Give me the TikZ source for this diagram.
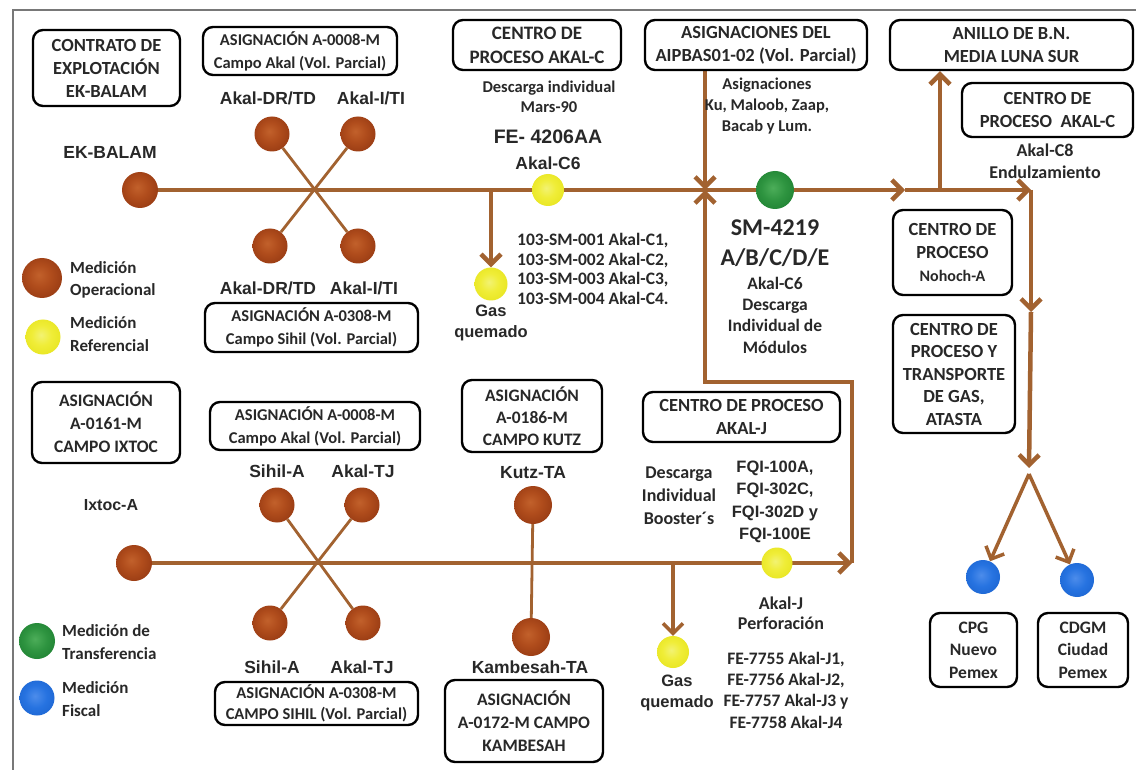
\documentclass[tikz,border=0pt]{standalone}
\usepackage{fontspec}
\setmainfont{Carlito}
\newfontfamily\arialf{Liberation Sans}
\usetikzlibrary{arrows.meta,backgrounds}

\definecolor{ink}{RGB}{40,40,40}
\definecolor{pipec}{RGB}{162,98,48}
\definecolor{framec}{RGB}{120,120,120}

% sphere shadings for the measuring points
\pgfdeclareradialshading{brownsphere}{\pgfpoint{-4bp}{4bp}}{%
  rgb(0bp)=(0.76,0.38,0.17); rgb(14bp)=(0.69,0.30,0.11); rgb(32bp)=(0.58,0.22,0.07);
  rgb(46bp)=(0.45,0.16,0.05); rgb(50bp)=(0.40,0.14,0.05)}
\pgfdeclareradialshading{yellowsphere}{\pgfpoint{-3bp}{3bp}}{%
  rgb(0bp)=(0.95,0.95,0.45); rgb(14bp)=(0.94,0.93,0.22); rgb(34bp)=(0.90,0.89,0.10);
  rgb(46bp)=(0.80,0.79,0.08); rgb(50bp)=(0.74,0.73,0.08)}
\pgfdeclareradialshading{greensphere}{\pgfpoint{-3bp}{3bp}}{%
  rgb(0bp)=(0.30,0.68,0.35); rgb(16bp)=(0.18,0.58,0.25); rgb(36bp)=(0.10,0.48,0.18);
  rgb(50bp)=(0.06,0.36,0.12)}
\pgfdeclareradialshading{bluesphere}{\pgfpoint{-3bp}{3bp}}{%
  rgb(0bp)=(0.30,0.55,0.92); rgb(16bp)=(0.15,0.45,0.88); rgb(36bp)=(0.10,0.38,0.80);
  rgb(50bp)=(0.06,0.28,0.62)}

\tikzset{
  >={Straight Barb[length=10pt,width=20pt]},
  pipe/.style={draw=pipec, line width=4.5pt},
  stem/.style={draw=pipec, line width=2.8pt},
  ball/.style={circle, inner sep=0pt, minimum size=36pt, shading=#1},
  arl/.style={font=\arialf\bfseries\fontsize{17.5}{21}\selectfont, text=ink, align=center, inner sep=0pt},
  cal/.style={font=\bfseries\fontsize{17.5}{21}\selectfont, text=ink, align=center, inner sep=0pt},
  legtxt/.style={font=\bfseries\fontsize{17}{22.5}\selectfont, text=ink, align=left, anchor=west, inner sep=0pt},
  boxst/.style={draw=black, line width=2.4pt, rounded corners=10pt, align=center, text=ink,
    inner sep=0pt, font=\bfseries\fontsize{18.5}{23}\selectfont},
  smallbox/.style={boxst, font=\bfseries\fontsize{16.5}{23}\selectfont},
}

\begin{document}
\begin{tikzpicture}[x=1pt,y=-1pt]
\useasboundingbox (0,0) rectangle (1136,770);

% ---------- boxes ----------
\node[boxst, minimum width=147pt, minimum height=76pt] (contrato) at (106.5,68)
  {CONTRATO DE\\EXPLOTACIÓN\\EK-BALAM};
\node[smallbox, minimum width=194pt, minimum height=48pt] (asigAkalT) at (300,51)
  {ASIGNACIÓN A-0008-M\\Campo Akal (Vol. Parcial)};
\node[boxst, minimum width=168pt, minimum height=50pt, font=\bfseries\fontsize{19}{24}\selectfont] (cpAkalC) at (537,45)
  {CENTRO DE\\PROCESO AKAL-C};
\node[boxst, minimum width=222pt, minimum height=50pt] (aipbas) at (756,45)
  {ASIGNACIONES DEL\\AIPBAS01-02 (Vol. Parcial)};
\node[boxst, minimum width=243pt, minimum height=50pt] (anillo) at (1011.5,45)
  {ANILLO DE B.N.\\MEDIA LUNA SUR};
\node[boxst, minimum width=171pt, minimum height=54pt] (cpAkalC8) at (1047.5,110)
  {CENTRO DE\\PROCESO~~AKAL-C};
\node[smallbox, minimum width=213pt, minimum height=49pt] (asigSihilT) at (311.5,327.5)
  {ASIGNACIÓN A-0308-M\\Campo Sihil (Vol. Parcial)};
\node[boxst, minimum width=119pt, minimum height=85pt] (nohoch) at (952.5,252.5)
  {CENTRO DE\\PROCESO\\{\fontsize{16}{20}\selectfont Nohoch-A}};
\node[boxst, minimum width=122pt, minimum height=118pt, font=\bfseries\fontsize{18.5}{22.5}\selectfont] (atasta) at (954,374)
  {CENTRO DE\\PROCESO Y\\TRANSPORTE\\DE GAS,\\ATASTA};
\node[boxst, minimum width=148pt, minimum height=81pt, font=\bfseries\fontsize{17.5}{23}\selectfont] (ixtocbox) at (106,422.5)
  {ASIGNACIÓN\\A-0161-M\\CAMPO IXTOC};
\node[smallbox, minimum width=210pt, minimum height=48pt] (asigAkalB) at (315,426)
  {ASIGNACIÓN A-0008-M\\Campo Akal (Vol. Parcial)};
\node[boxst, minimum width=140pt, minimum height=72pt, font=\bfseries\fontsize{17.5}{22}\selectfont] (kutzbox) at (532,416)
  {ASIGNACIÓN\\A-0186-M\\CAMPO KUTZ};
\node[boxst, minimum width=197pt, minimum height=50pt] (akalJ) at (741.5,417)
  {CENTRO DE PROCESO\\AKAL-J};
\node[smallbox, minimum width=203pt, minimum height=43pt, font=\bfseries\fontsize{16.5}{21}\selectfont] (asigSihilB) at (316.5,703.5)
  {ASIGNACIÓN A-0308-M\\CAMPO SIHIL (Vol. Parcial)};
\node[boxst, minimum width=158pt, minimum height=82pt, font=\bfseries\fontsize{17.5}{23}\selectfont] (kambbox) at (524,721)
  {ASIGNACIÓN\\A-0172-M CAMPO\\KAMBESAH};
\node[boxst, minimum width=87pt, minimum height=74pt, font=\bfseries\fontsize{17.5}{22.5}\selectfont] (cpg) at (973.5,650)
  {CPG\\Nuevo\\Pemex};
\node[boxst, minimum width=90pt, minimum height=74pt, font=\bfseries\fontsize{17.5}{22.5}\selectfont] (cdgm) at (1083,650)
  {CDGM\\Ciudad\\Pemex};

% ---------- measuring points, upper line ----------
\node[ball=brownsphere] (ek) at (140,190) {};
\node[ball=brownsphere, minimum size=35pt] (drT1) at (272,134) {};
\node[ball=brownsphere, minimum size=35pt] (itT1) at (358,134) {};
\node[ball=brownsphere, minimum size=35pt] (drT2) at (270,246) {};
\node[ball=brownsphere, minimum size=35pt] (itT2) at (358,246) {};
\node[ball=yellowsphere, minimum size=32pt] (yC6) at (548,190) {};
\node[ball=yellowsphere, minimum size=33pt] (gas1) at (491,284) {};
\node[ball=greensphere, minimum size=38pt] (sm) at (775,190) {};

% ---------- measuring points, lower line ----------
\node[ball=brownsphere] (ixA) at (134,563) {};
\node[ball=brownsphere, minimum size=35pt] (sihT1) at (277,505) {};
\node[ball=brownsphere, minimum size=35pt] (tjT1) at (362,505) {};
\node[ball=brownsphere, minimum size=35pt] (sihT2) at (270,623) {};
\node[ball=brownsphere, minimum size=35pt] (tjT2) at (363,623) {};
\node[ball=brownsphere, minimum size=38pt] (kutz) at (533,505) {};
\node[ball=brownsphere, minimum size=38pt] (kamb) at (531,637) {};
\node[ball=yellowsphere, minimum size=32pt] (gas2) at (673,652) {};
\node[ball=yellowsphere, minimum size=31pt] (yJ) at (777,563) {};

% ---------- fiscal points ----------
\node[ball=bluesphere, minimum size=34pt] (blue1) at (983,577) {};
\node[ball=bluesphere, minimum size=34pt] (blue2) at (1077,580) {};

% ---------- legend ----------
\node[ball=brownsphere, minimum size=40pt] (legOp) at (42,278) {};
\node[ball=yellowsphere, minimum size=35pt] (legRef) at (43,337) {};
\node[ball=greensphere, minimum size=36pt] (legTr) at (37,641) {};
\node[ball=bluesphere, minimum size=35pt] (legFi) at (37,698) {};
\node[legtxt] (tOp) at (70,280) {Medición\\Operacional};
\node[legtxt] (tRef) at (70,334) {Medición\\Referencial};
\node[legtxt] (tTr) at (62,642) {Medición de\\Transferencia};
\node[legtxt] (tFi) at (62,699) {Medición\\Fiscal};

% ---------- labels ----------
\node[arl] (tEK) at (110,152) {EK-BALAM};
\node[arl] (tDRa) at (268,98) {Akal-DR/TD};
\node[arl] (tITa) at (371,98) {Akal-I/TI};
\node[arl] (tDRb) at (268,288) {Akal-DR/TD};
\node[arl] (tITb) at (364,288) {Akal-I/TI};
\node[cal, font=\bfseries\fontsize{16.5}{20.5}\selectfont] (tMars) at (549,97) {Descarga individual\\Mars-90};
\node[arl, font=\arialf\bfseries\fontsize{19.5}{22}\selectfont] (tFE) at (548,137) {FE- 4206AA};
\node[arl] (tC6) at (548,163) {Akal-C6};
\node[cal, font=\bfseries\fontsize{16.5}{21}\selectfont] (tAsig) at (767,106) {Asignaciones\\Ku, Maloob, Zaap,\\Bacab y Lum.};
\node[cal, align=left, anchor=west, font=\bfseries\fontsize{17.5}{19.5}\selectfont] (tSM) at (517,269)
  {103-SM-001 Akal-C1,\\103-SM-002 Akal-C2,\\103-SM-003 Akal-C3,\\103-SM-004 Akal-C4.};
\node[arl, font=\arialf\bfseries\fontsize{16.5}{21}\selectfont] (tGas1) at (491,323) {Gas\\quemado};
\node[cal, font=\bfseries\fontsize{24}{30}\selectfont] (tSM4219) at (775,243) {SM-4219\\A/B/C/D/E};
\node[cal, font=\bfseries\fontsize{17.5}{21.3}\selectfont] (tModulos) at (775,315) {Akal-C6\\Descarga\\Individual de\\Módulos};
\node[cal, font=\bfseries\fontsize{18}{22}\selectfont] (tC8) at (1045,161) {Akal-C8\\Endulzamiento};

\node[arl, font=\arialf\bfseries\fontsize{16}{21}\selectfont] (tIx) at (111,505) {Ixtoc-A};
\node[arl] (tSihA) at (277,471) {Sihil-A};
\node[arl] (tTJa) at (363,471) {Akal-TJ};
\node[arl] (tSihB) at (272,667) {Sihil-A};
\node[arl] (tTJb) at (362,667) {Akal-TJ};
\node[arl] (tKutz) at (533,473) {Kutz-TA};
\node[arl] (tKamb) at (530,667) {Kambesah-TA};
\node[arl, font=\arialf\bfseries\fontsize{16.5}{21}\selectfont] (tGas2) at (677,693) {Gas\\quemado};
\node[cal, font=\bfseries\fontsize{18}{23}\selectfont] (tBooster) at (679,496) {Descarga\\Individual\\Booster´s};
\node[arl, font=\arialf\bfseries\fontsize{16.5}{22.5}\selectfont] (tFQI) at (775,502) {FQI-100A,\\FQI-302C,\\FQI-302D y\\FQI-100E};
\node[cal, font=\bfseries\fontsize{18}{20.5}\selectfont] (tPerf) at (781,613) {Akal-J\\Perforación};
\node[cal, font=\bfseries\fontsize{17.5}{21.3}\selectfont] (tFE77) at (786,690)
  {FE-7755 Akal-J1,\\FE-7756 Akal-J2,\\FE-7757 Akal-J3 y\\FE-7758 Akal-J4};

% ---------- junctions of the piping ----------
\coordinate (gasTap1) at (491,190);
\coordinate (inTop) at (705,190);
\coordinate (jOut) at (905,190);
\coordinate (jAn) at (940,190);
\coordinate (jR) at (1031,190);
\coordinate (jMid) at (1031,312);
\coordinate (jSplit) at (1029,468);
\coordinate (jFork) at (1029,474);
\coordinate (gasTap2) at (673,563);
\coordinate (jBR) at (852,563);
\coordinate (jBRup) at (852,382);
\coordinate (jBL) at (705,382);

% ---------- piping (behind the measuring points) ----------
\begin{scope}[on background layer]
  \fill[white] (0,0) rectangle (1136,770);
  \draw[framec, line width=1.5pt] (13,770) -- (13,10) -- (1136,10);
  % upper line
  \draw[pipe,->] (ek) -- (jOut);
  \draw[stem] (drT1) -- (itT2);
  \draw[stem] (itT1) -- (drT2);
  \draw[pipe,->] (gasTap1) -- (gas1);
  \draw[pipe,->] (aipbas.south -| inTop) -- (inTop);
  \draw[pipe,->] (jOut) -- (jR);
  \draw[pipe,->] (jAn) -- (anillo.south -| jAn);
  \draw[pipe,->] (jR) -- (jMid);
  \draw[pipe,->] (jMid) -- (jSplit);
  \draw[pipe,->, line width=3.5pt] (jFork) -- (blue1);
  \draw[pipe,->, line width=3.5pt] (jFork) -- (blue2);
  % lower line
  \draw[pipe,->] (ixA) -- (jBR);
  \draw[stem] (sihT1) -- (tjT2);
  \draw[stem] (tjT1) -- (sihT2);
  \draw[stem] (kutz) -- (kamb);
  \draw[pipe,->, line width=3.5pt] (gasTap2) -- (gas2);
  \draw[pipe,->] (jBR) -- (jBRup) -- (jBL) -- (inTop);
\end{scope}
\end{tikzpicture}
\end{document}
